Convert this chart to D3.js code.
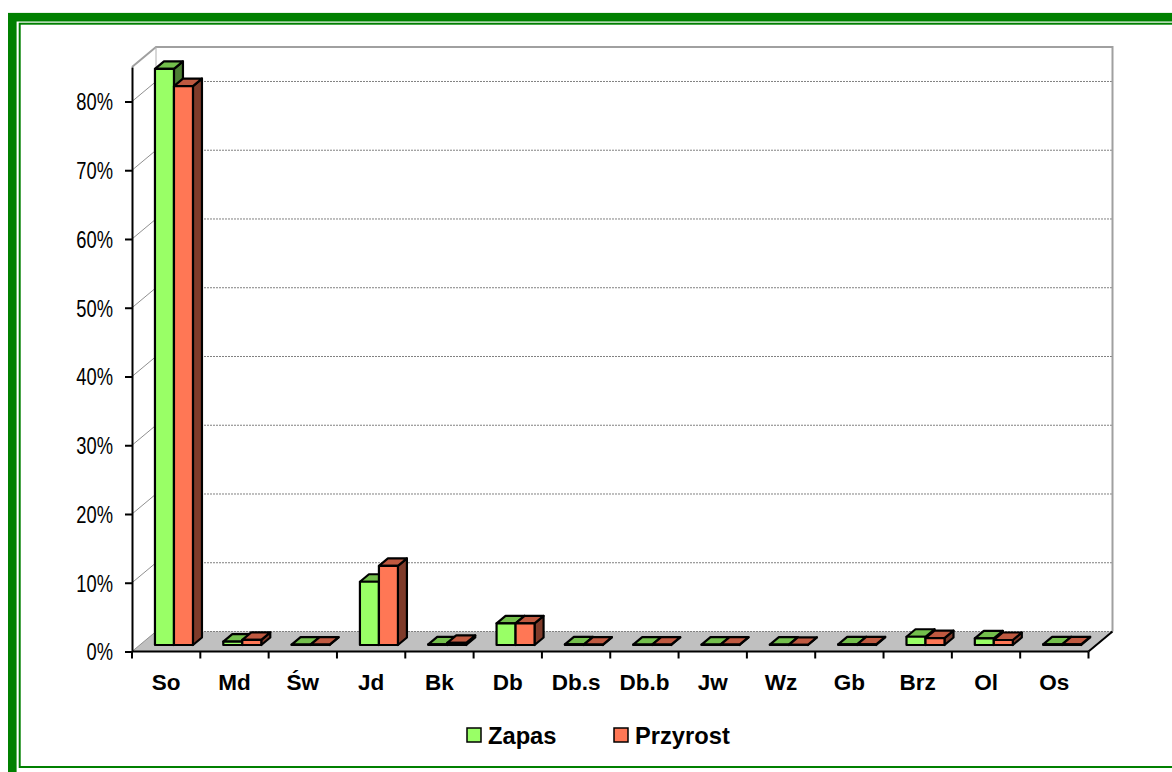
<!DOCTYPE html>
<html>
<head>
<meta charset="utf-8">
<script src="https://cdn.jsdelivr.net/npm/d3@7"></script>
<style>
  html, body { margin: 0; padding: 0; background: #fff; overflow: hidden; }
  svg { display: block; font-family: "Liberation Sans", Arial, sans-serif; }
</style>
</head>
<body>
<svg id="chart" width="1172" height="772"></svg>
<script>
// data
const categories = ["So", "Md", "Św", "Jd", "Bk", "Db", "Db.s", "Db.b", "Jw", "Wz", "Gb", "Brz", "Ol", "Os"];
const zapas    = [0.838, 0.005, 0.0005, 0.092, 0.001, 0.0315, 0.001, 0.0005, 0.0005, 0.0005, 0.001, 0.012, 0.0097, 0.001];
const przyrost = [0.813, 0.0075, 0.0005, 0.115, 0.003, 0.0315, 0.0005, 0.0005, 0.0005, 0.0003, 0.001, 0.010, 0.0073, 0.001];
const yTicks   = [0, 0.1, 0.2, 0.3, 0.4, 0.5, 0.6, 0.7, 0.8];
const seriesNames = ["Zapas", "Przyrost"];

const svg = d3.select("#chart");

// colours: front / top / side
const palette = [
  {front: "#99ff66", top: "#73bf4c", side: "#4c7f33"},
  {front: "#ff7755", top: "#bf5940", side: "#7f3b2a"}
];

// 3d depth of the plot box and of a bar
const depth = {x: 24, y: -20};
const barFront = {x: 7.8, y: -6.5};
const barDepth = {x: 9, y: -7.5};

const x = d3.scaleBand().domain(categories).range([132, 1088.5]).padding(0);
const y = d3.scaleLinear().domain([0, 0.85]).range([651.5, 67.1]);
const barW = 19;

// ---- frame (double green border like the excel one)
svg.append("rect").attr("x", 12.3).attr("y", 17.2).attr("width", 1180).attr("height", 760)
  .attr("fill", "none").attr("stroke", "#008000").attr("stroke-width", 8.6);
svg.append("rect").attr("x", 19.7).attr("y", 23.7).attr("width", 1170).attr("height", 743.3)
  .attr("fill", "none").attr("stroke", "#008000").attr("stroke-width", 2);

const x0 = x.range()[0], x1 = x.range()[1];
const yTop = y(0.85), yBot = y(0);

// left wall
const pts = a => a.map(p => p.join(",")).join(" ");
svg.append("polygon")
  .attr("points", pts([[x0, yTop], [x0 + depth.x, yTop + depth.y], [x0 + depth.x, yBot + depth.y], [x0, yBot]]))
  .attr("fill", "#fff").attr("stroke", "none");

// floor
svg.append("polygon")
  .attr("points", pts([[x0, yBot], [x1, yBot], [x1 + depth.x, yBot + depth.y], [x0 + depth.x, yBot + depth.y]]))
  .attr("fill", "#c0c0c0").attr("stroke", "none");

// gridlines on the back wall and left wall
const grid = svg.append("g");
grid.selectAll("line.back").data(yTicks).join("line").attr("class", "back")
  .attr("x1", x0 + depth.x).attr("x2", x1 + depth.x)
  .attr("y1", d => y(d) + depth.y).attr("y2", d => y(d) + depth.y)
  .attr("stroke", "#808080").attr("stroke-width", 1).attr("stroke-dasharray", "2,1");
grid.selectAll("line.side").data(yTicks).join("line").attr("class", "side")
  .attr("x1", x0).attr("x2", x0 + depth.x)
  .attr("y1", d => y(d)).attr("y2", d => y(d) + depth.y)
  .attr("stroke", "#909090").attr("stroke-width", 1);

// wall edges
svg.append("polyline")
  .attr("points", pts([[x0, yTop], [x0 + depth.x, yTop + depth.y], [x1 + depth.x, yTop + depth.y], [x1 + depth.x, yBot + depth.y]]))
  .attr("fill", "none").attr("stroke", "#a0a0a0").attr("stroke-width", 2);
svg.append("line")
  .attr("x1", x0 + depth.x).attr("x2", x0 + depth.x).attr("y1", yTop + depth.y).attr("y2", yBot + depth.y)
  .attr("stroke", "#b0b0b0").attr("stroke-width", 1);
svg.append("line")
  .attr("x1", x1).attr("y1", yBot).attr("x2", x1 + depth.x).attr("y2", yBot + depth.y)
  .attr("stroke", "#000").attr("stroke-width", 2);

// ---- bars
const bars = svg.append("g");
categories.forEach((c, i) => {
  [zapas[i], przyrost[i]].forEach((v, s) => {
    const col = palette[s];
    const fx = x(c) + x.bandwidth() / 2 - barW + s * barW + barFront.x;
    const fb = y(0) + barFront.y;
    const ft = y(v) + barFront.y;
    const g = bars.append("g").attr("stroke", "#000").attr("stroke-width", 2.2).attr("stroke-linejoin", "round");
    g.append("polygon")
      .attr("points", pts([[fx + barW, ft], [fx + barW + barDepth.x, ft + barDepth.y], [fx + barW + barDepth.x, fb + barDepth.y], [fx + barW, fb]]))
      .attr("fill", col.side);
    g.append("polygon")
      .attr("points", pts([[fx, ft], [fx + barDepth.x, ft + barDepth.y], [fx + barW + barDepth.x, ft + barDepth.y], [fx + barW, ft]]))
      .attr("fill", col.top);
    g.append("rect").attr("x", fx).attr("y", ft).attr("width", barW).attr("height", Math.max(0, fb - ft))
      .attr("fill", col.front);
  });
});

// ---- axes
const sx = 0.78;
const yAxis = svg.append("g").attr("transform", `translate(${x0},0)`)
  .call(d3.axisLeft(y).tickValues(yTicks).tickFormat(d3.format(".0%")).tickSize(7).tickSizeOuter(0));
yAxis.select(".domain").attr("stroke", "#000").attr("stroke-width", 2);
yAxis.selectAll(".tick line").attr("stroke", "#000").attr("stroke-width", 2);
yAxis.selectAll(".tick text")
  .attr("x", -19 / sx).attr("dy", "0.36em")
  .attr("transform", `scale(${sx},1)`)
  .attr("font-size", 23.5).attr("font-family", "Liberation Sans, Arial, sans-serif").attr("fill", "#000");

const xAxis = svg.append("g").attr("transform", `translate(0,${yBot})`)
  .call(d3.axisBottom(x).tickSize(0).tickPadding(0));
xAxis.select(".domain").remove();
xAxis.selectAll(".tick text")
  .attr("y", 38).attr("dy", 0)
  .attr("font-size", 22.5).attr("font-weight", "bold")
  .attr("font-family", "Liberation Sans, Arial, sans-serif").attr("fill", "#000");
svg.append("line").attr("x1", x0).attr("x2", x1).attr("y1", yBot).attr("y2", yBot)
  .attr("stroke", "#000").attr("stroke-width", 2);
svg.append("g").selectAll("line").data(d3.range(categories.length + 1)).join("line")
  .attr("x1", d => x0 + d * x.step()).attr("x2", d => x0 + d * x.step())
  .attr("y1", yBot).attr("y2", yBot + 7)
  .attr("stroke", "#000").attr("stroke-width", 2);

// ---- legend
const legendX = [467, 614];
const legend = svg.append("g");
seriesNames.forEach((n, s) => {
  legend.append("rect").attr("x", legendX[s]).attr("y", 728).attr("width", 14).attr("height", 14)
    .attr("fill", palette[s].front).attr("stroke", "#000").attr("stroke-width", 1.5);
  legend.append("text").attr("x", legendX[s] + 21).attr("y", 743.5)
    .attr("font-size", 23.7).attr("font-weight", "bold").attr("fill", "#000").text(n);
});
</script>
</body>
</html>
